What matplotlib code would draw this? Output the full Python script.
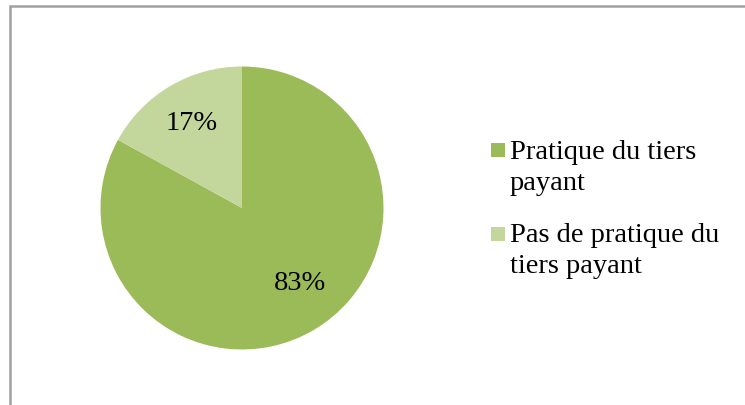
import matplotlib
matplotlib.use("Agg")
import matplotlib.pyplot as plt
import numpy as np
from matplotlib.patches import Rectangle

categories = ["Pratique du tiers\npayant", "Pas de pratique du\ntiers payant"]
values = [83, 17]
colors = ["#9BBB59", "#C3D69B"]

W, H = 745, 406
fig = plt.figure(figsize=(W / 100, H / 100), dpi=100)
fig.patch.set_facecolor("white")
font = ["Liberation Serif", "DejaVu Serif"]

# border (cut off at right and bottom)
fig.patches.append(Rectangle((10 / W, -0.05), 1.05, (H - 7) / H + 0.05, transform=fig.transFigure,
                             fill=False, edgecolor="#A0A0A0", linewidth=1.8))

cx, cy, r = 242, 209, 141.5
ax = fig.add_axes([(cx - r) / W, (H - cy - r) / H, 2 * r / W, 2 * r / H])
wedges, texts, autotexts = ax.pie(values, colors=colors, startangle=90, counterclock=False,
                                  autopct="%d%%", pctdistance=0.70, radius=1,
                                  textprops=dict(fontsize=20.5, family=font, color="black"))
# label placement as in the reference (first label sits off the wedge bisector)
a0 = np.deg2rad(-52)
autotexts[0].set_position((0.67 * np.cos(a0), 0.67 * np.sin(a0)))
ax.set_xlim(-1, 1)
ax.set_ylim(-1, 1)
ax.set_aspect("equal")
ax.axis("off")

# legend
ys = [151, 234.5]
for lab, col, y in zip(categories, colors, ys):
    fig.patches.append(Rectangle((491 / W, (H - y - 7) / H), 14 / W, 14 / H,
                                 transform=fig.transFigure, facecolor=col, edgecolor="none"))
    fig.text(510 / W, (H - y + 11) / H, lab, fontsize=20.5, family=font, va="top", ha="left",
             linespacing=1.3, color="black")

fig.savefig("out.png", dpi=100)
